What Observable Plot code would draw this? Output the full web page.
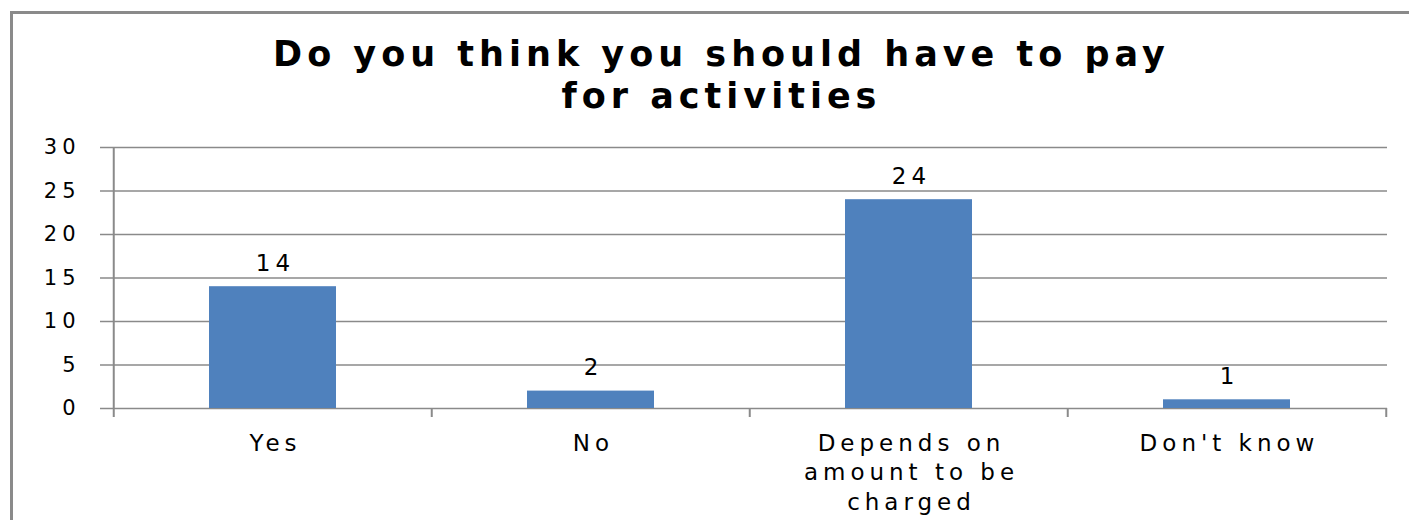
<!DOCTYPE html>
<html>
<head>
<meta charset="utf-8">
<script src="https://cdn.jsdelivr.net/npm/d3@7"></script>
<script src="https://cdn.jsdelivr.net/npm/@observablehq/plot@0.6"></script>
<style>
  html, body { margin: 0; padding: 0; background: #fff; }
  #wrap { position: relative; width: 1409px; height: 520px; overflow: hidden; background: #fff; }
  #border { position: absolute; left: 10px; top: 11px; width: 1500px; height: 600px;
            border-left: 3px solid #8a8a8a; border-top: 3px solid #8a8a8a; }
  #title { position: absolute; left: 17px; top: 33px; width: 1409px; text-align: center;
           font-family: "DejaVu Sans", sans-serif; font-weight: bold; font-size: 35px;
           line-height: 42px; letter-spacing: 5px; color: #000; }
  #chart { position: absolute; left: 0; top: 100px; }
  #chart svg text { letter-spacing: 5px; }
</style>
</head>
<body>
<div id="wrap">
  <div id="border"></div>
  <div id="title">Do you think you should have to pay<br>for activities</div>
  <div id="chart"></div>
</div>
<script>
const categories = ["Yes", "No", "Depends on amount to be charged", "Don't know"];
const tickLabels = ["Yes", "No", "Depends on\namount to be\ncharged", "Don't know"];
const values = [14, 2, 24, 1];
const yTicks = [0, 5, 10, 15, 20, 25, 30];

const data = categories.map((c, i) => ({cat: c, value: values[i]}));
const labelOf = new Map(categories.map((c, i) => [c, tickLabels[i]]));

const W = 1409, H = 420, mL = 113, mR = 22, mT = 47, mB = 112;
const step = (W - mL - mR) / categories.length;
const grid = "#8a8a8a";
const font = "'DejaVu Sans', sans-serif";

const plot = Plot.plot({
  width: W, height: H,
  marginLeft: mL, marginRight: mR, marginTop: mT, marginBottom: mB,
  style: {fontFamily: font, color: "#000", background: "transparent", overflow: "visible"},
  x: {type: "band", domain: categories, paddingInner: 0.6, paddingOuter: 0.3, axis: null, label: null},
  y: {domain: [0, 30], axis: null, label: null},
  marks: [
    Plot.ruleY(yTicks, {y: d => d, stroke: grid, strokeWidth: 1.5, insetLeft: -13}),
    Plot.barY(data, {x: "cat", y: "value", fill: "#4F81BD"}),
    Plot.ruleX([categories[0]], {x: d => d, y1: 30, y2: 0, dx: -step / 2, insetBottom: -9, stroke: grid, strokeWidth: 2}),
    Plot.ruleX(categories.slice(1), {x: d => d, y1: 0, y2: 0, dx: -step / 2, insetBottom: -9, stroke: grid, strokeWidth: 2}),
    Plot.ruleX([categories[categories.length - 1]], {x: d => d, y1: 0, y2: 0, dx: step / 2, insetBottom: -9, stroke: grid, strokeWidth: 2}),
    Plot.axisY({ticks: yTicks, tickSize: 0, tickPadding: 33, fontSize: 21, label: null, tickFormat: d => String(d)}),
    Plot.axisX({tickSize: 0, tickPadding: 22, fontSize: 23, lineHeight: 1.27, dx: 2.5, label: null,
                tickFormat: d => labelOf.get(d)}),
    Plot.text(data, {x: "cat", y: "value", text: d => String(d.value), dy: -23, dx: 2.5,
                     lineAnchor: "middle", fontSize: 23, fill: "#000"})
  ]
});
document.getElementById("chart").appendChild(plot);
</script>
</body>
</html>
